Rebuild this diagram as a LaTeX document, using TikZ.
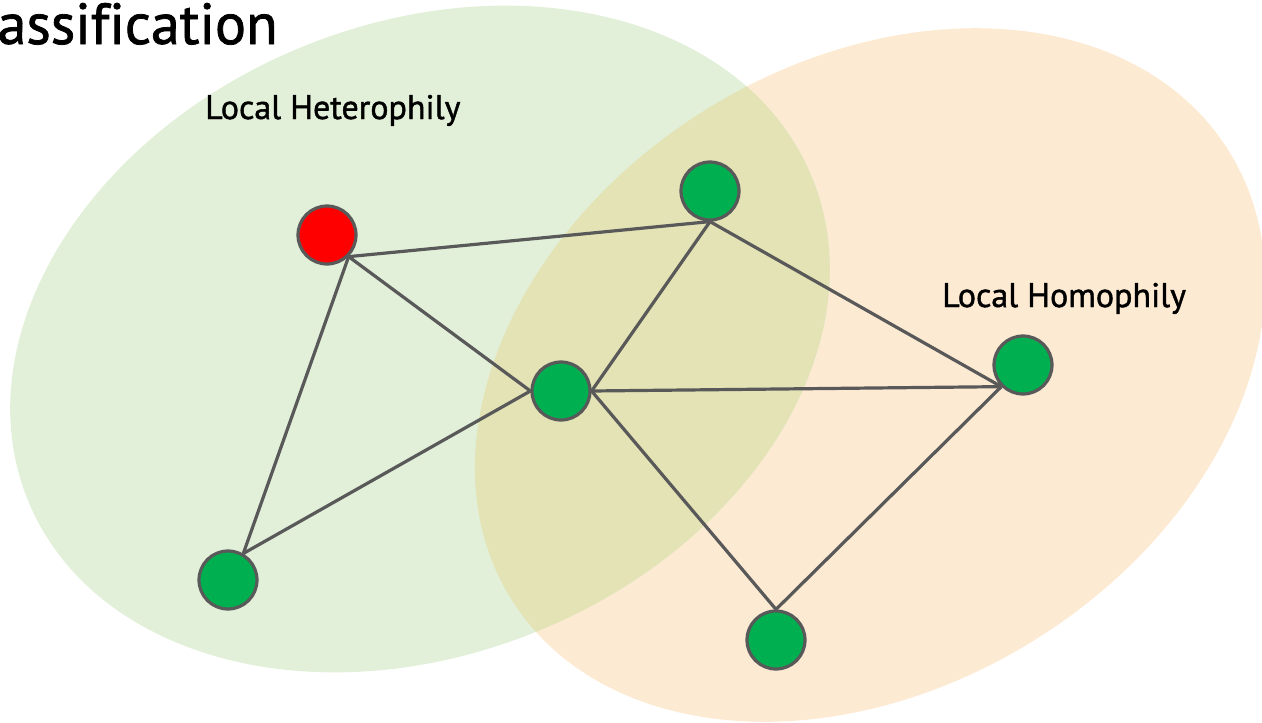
\documentclass[tikz,border=0pt]{standalone}
\usepackage{fontspec}
\setmainfont{PT Sans}[Ligatures=NoCommon]
\newfontfamily\zonefont{PT Sans}[Ligatures=NoCommon, FakeBold=1.3]
\usetikzlibrary{backgrounds}
\definecolor{edgegray}{HTML}{595959}
\definecolor{vgreen}{HTML}{00B050}
\definecolor{vred}{HTML}{FF0000}
\definecolor{zoneorange}{HTML}{FDEAD3}
\definecolor{zonegreen}{HTML}{E2F0D9}
\definecolor{zoneboth}{HTML}{E4E3B5}
\begin{document}
\begin{tikzpicture}[x=1pt,y=-1pt,
  vertex/.style={circle, draw=edgegray, line width=3.2pt, minimum size=58pt, inner sep=0pt},
  link/.style={draw=edgegray, line width=3.2pt},
  zonetext/.style={font=\zonefont\fontsize{34}{40}\selectfont, anchor=base west, inner sep=0pt},
  titletext/.style={font=\zonefont\fontsize{58}{64}\selectfont, anchor=base east, inner sep=0pt},
  greenzone/.style={rotate around={22.6:(420,339)}},
  orangezone/.style={rotate around={32:(870,375)}}]
\useasboundingbox (0,0) rectangle (1262,723);

% overlapping neighbourhood zones and their common part
\begin{pgfonlayer}{background}
  \fill[zoneorange, orangezone] (870,375) ellipse [x radius=423pt, y radius=312pt];
  \fill[zonegreen, greenzone] (420,339) ellipse [x radius=424pt, y radius=315pt];
  \begin{scope}
    \clip[greenzone] (420,339) ellipse [x radius=424pt, y radius=315pt];
    \fill[zoneboth, orangezone] (870,375) ellipse [x radius=423pt, y radius=312pt];
  \end{scope}
\end{pgfonlayer}

% title and zone captions
\node[titletext] (title) at (278,44) {assification};
\node[zonetext] (het) at (205,119) {Local Heterophily};
\node[zonetext] (hom) at (942,307) {Local Homophily};

% graph vertices
\node[vertex, fill=vred]   (r)  at (327,235) {};
\node[vertex, fill=vgreen] (t)  at (710,191) {};
\node[vertex, fill=vgreen] (c)  at (561,391) {};
\node[vertex, fill=vgreen] (rt) at (1023,365) {};
\node[vertex, fill=vgreen] (bl) at (228,580) {};
\node[vertex, fill=vgreen] (b)  at (776,640) {};

% edges, kept beneath the vertices
\begin{pgfonlayer}{background}
  \draw[link] (r.south east) -- (t.south);
  \draw[link] (r.south east) -- (c.west);
  \draw[link] (r.south east) -- (bl.60);
  \draw[link] (t.south) -- (c.east);
  \draw[link] (t.south) -- (rt.south west);
  \draw[link] (c.west) -- (bl.60);
  \draw[link] (c.east) -- (rt.south west);
  \draw[link] (c.east) -- (b.north);
  \draw[link] (rt.south west) -- (b.north);
\end{pgfonlayer}
\end{tikzpicture}
\end{document}
